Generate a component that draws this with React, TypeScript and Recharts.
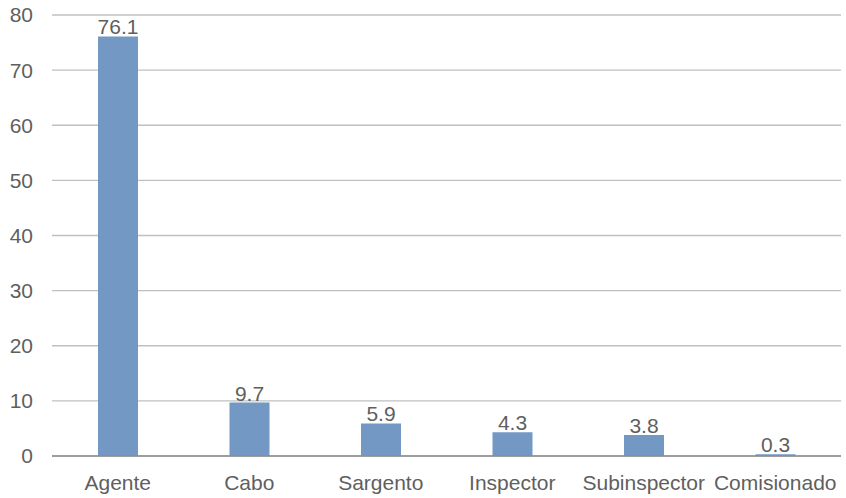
import { BarChart, Bar, XAxis, YAxis, CartesianGrid, LabelList } from 'recharts';

// Share of staff by rank (%)
const ranks = ['Agente', 'Cabo', 'Sargento', 'Inspector', 'Subinspector', 'Comisionado'];
const shares = [76.1, 9.7, 5.9, 4.3, 3.8, 0.3];
const yTicks = [0, 10, 20, 30, 40, 50, 60, 70, 80];

const rows = ranks.map((rank, i) => ({ rank, share: shares[i] }));

const font = '"Liberation Sans", Arial, sans-serif';
const textStyle = { fill: '#5f5f5f', fontSize: 21, fontFamily: font };

export default function App() {
  return (
    <div style={{ position: 'absolute', left: 0, top: 0, background: '#fff' }}>
      <BarChart
        width={846}
        height={498}
        data={rows}
        margin={{ top: 15, right: 5, bottom: 0, left: 0 }}
      >
        <CartesianGrid vertical={false} stroke="#c0c0c0" strokeWidth={1.3} />
        <XAxis
          dataKey="rank"
          height={42}
          tickLine={false}
          tickSize={0}
          tickMargin={19}
          axisLine={{ stroke: '#8c8c8c', strokeWidth: 1.5 }}
          tick={textStyle}
          interval={0}
        />
        <YAxis
          width={52}
          domain={[0, 80]}
          ticks={yTicks}
          axisLine={false}
          tickLine={false}
          tickSize={0}
          tickMargin={19}
          tick={textStyle}
        />
        <Bar dataKey="share" fill="#7398c4" barSize={40} isAnimationActive={false}>
          <LabelList dataKey="share" position="top" offset={2} style={textStyle} />
        </Bar>
      </BarChart>
    </div>
  );
}
